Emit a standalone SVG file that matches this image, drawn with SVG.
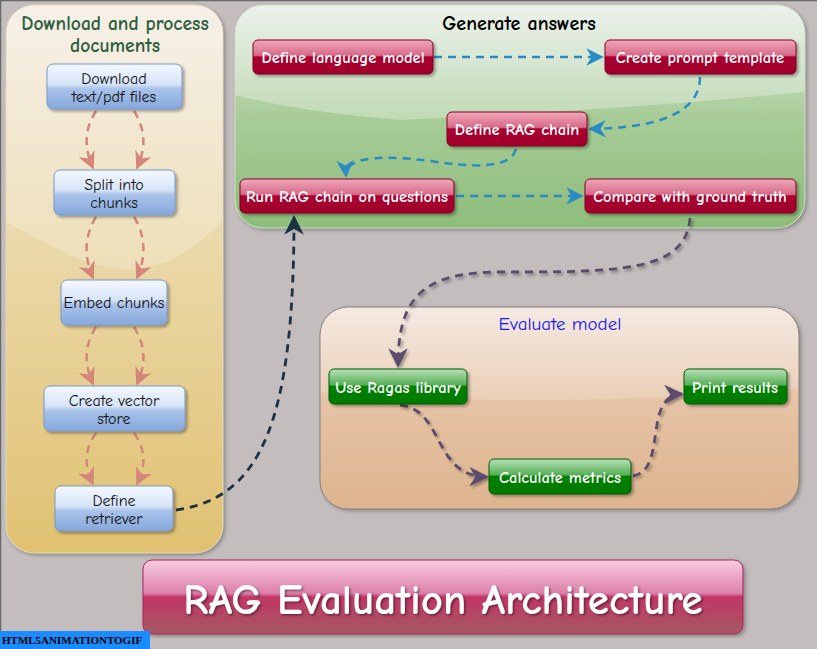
<svg xmlns="http://www.w3.org/2000/svg" width="817" height="649" viewBox="0 0 817 649">
<defs>
  <linearGradient id="gLeft" x1="0" y1="0" x2="0" y2="1">
    <stop offset="0" stop-color="#f4ece2"/>
    <stop offset="0.45" stop-color="#ead8a8"/>
    <stop offset="1" stop-color="#e0c170"/>
  </linearGradient>
  <linearGradient id="gGreen" x1="0" y1="0" x2="0" y2="1">
    <stop offset="0" stop-color="#e4ece4"/>
    <stop offset="0.5" stop-color="#a8cc98"/>
    <stop offset="1" stop-color="#8dbd7b"/>
  </linearGradient>
  <linearGradient id="gEval" x1="0" y1="0" x2="0" y2="1">
    <stop offset="0" stop-color="#f3e5dc"/>
    <stop offset="0.45" stop-color="#e6c4a6"/>
    <stop offset="1" stop-color="#ddb48e"/>
  </linearGradient>
  <linearGradient id="gBlue" x1="0" y1="0" x2="0" y2="1">
    <stop offset="0" stop-color="#f4f8ff"/>
    <stop offset="0.45" stop-color="#d6e4f8"/>
    <stop offset="0.55" stop-color="#a9c3ea"/>
    <stop offset="1" stop-color="#86a8dc"/>
  </linearGradient>
  <linearGradient id="gRed" x1="0" y1="0" x2="0" y2="1">
    <stop offset="0" stop-color="#f0a8bc"/>
    <stop offset="0.45" stop-color="#d86a88"/>
    <stop offset="0.5" stop-color="#a8002e"/>
    <stop offset="1" stop-color="#a0002c"/>
  </linearGradient>
  <linearGradient id="gGrn" x1="0" y1="0" x2="0" y2="1">
    <stop offset="0" stop-color="#b8e0b8"/>
    <stop offset="0.45" stop-color="#58b058"/>
    <stop offset="0.5" stop-color="#008000"/>
    <stop offset="1" stop-color="#007a00"/>
  </linearGradient>
  <linearGradient id="gTitle" x1="0" y1="0" x2="0" y2="1">
    <stop offset="0" stop-color="#f8cce0"/>
    <stop offset="0.45" stop-color="#dc80aa"/>
    <stop offset="0.5" stop-color="#c23566"/>
    <stop offset="1" stop-color="#a45a62"/>
  </linearGradient>
  <filter id="sh" x="-10%" y="-20%" width="125%" height="150%">
    <feDropShadow dx="2" dy="2" stdDeviation="1.5" flood-color="#000" flood-opacity="0.35"/>
  </filter>
  <filter id="psh" x="-5%" y="-5%" width="110%" height="110%">
    <feDropShadow dx="2" dy="2" stdDeviation="2" flood-color="#000" flood-opacity="0.3"/>
  </filter>
  <filter id="tsh" x="-5%" y="-20%" width="110%" height="140%">
    <feDropShadow dx="1.5" dy="1.5" stdDeviation="1" flood-color="#000" flood-opacity="0.45"/>
  </filter>
  <clipPath id="cLeft"><rect x="6" y="5" width="217" height="548" rx="28"/></clipPath>
  <clipPath id="cGreen"><rect x="235" y="5" width="570" height="223" rx="28"/></clipPath>
  <clipPath id="cEval"><rect x="320" y="307" width="479" height="202" rx="28"/></clipPath>
  <marker id="mPink" viewBox="0 0 10 10" refX="9" refY="5" markerWidth="7" markerHeight="7" orient="auto"><path d="M0,0 L10,5 L0,10 L3,5 Z" fill="#d4867a"/></marker>
  <marker id="mBlue" viewBox="0 0 10 10" refX="9" refY="5" markerWidth="7" markerHeight="7" orient="auto"><path d="M0,0 L10,5 L0,10 L3,5 Z" fill="#2b8cc4"/></marker>
  <marker id="mDark" viewBox="0 0 10 10" refX="9" refY="5" markerWidth="7" markerHeight="7" orient="auto"><path d="M0,0 L10,5 L0,10 L3,5 Z" fill="#1c3144"/></marker>
  <marker id="mPurp" viewBox="0 0 10 10" refX="9" refY="5" markerWidth="7" markerHeight="7" orient="auto"><path d="M0,0 L10,5 L0,10 L3,5 Z" fill="#5c4c6c"/></marker>
</defs>
<style>
  text { font-family: "Comic Sans MS", "Comic Neue", "DejaVu Sans", sans-serif; }
  .bn { fill: url(#gBlue); stroke: #7898cc; stroke-width: 1; filter: url(#sh); }
  .rn { fill: url(#gRed); stroke: #80001e; stroke-width: 1; filter: url(#sh); }
  .gn { fill: url(#gGrn); stroke: #005a00; stroke-width: 1; filter: url(#sh); }
  .bt { font-size: 16px; fill: #111; text-anchor: middle; }
  .wt { font-size: 16.5px; fill: #fff; font-weight: bold; text-anchor: middle; }
  .pk { fill: none; stroke: #d4867a; stroke-width: 2.5; stroke-dasharray: 8 6; marker-end: url(#mPink); }
  .bl { fill: none; stroke: #2b8cc4; stroke-width: 2.5; stroke-dasharray: 8 6; marker-end: url(#mBlue); }
  .dk { fill: none; stroke: #1c3144; stroke-width: 2.8; stroke-dasharray: 8 6; marker-end: url(#mDark); }
  .pu { fill: none; stroke: #5c4c6c; stroke-width: 2.8; stroke-dasharray: 8 6; marker-end: url(#mPurp); filter: url(#sh); }
</style>
<rect width="817" height="649" fill="#c3bdbd"/>
<path d="M0.5,649 V0.5 H817" fill="none" stroke="#6a6a6a" stroke-width="1.5"/>

<g id="panel-download">
  <rect x="6" y="5" width="217" height="548" rx="28" fill="url(#gLeft)" filter="url(#psh)"/>
  <g clip-path="url(#cLeft)">
    <path d="M6,5 H223 V220 Q150,300 60,250 Q30,235 6,222 Z" fill="#fff" opacity="0.22"/>
  </g>
  <rect x="6" y="5" width="217" height="548" rx="28" fill="none" stroke="#e8dcc0" stroke-width="1"/>
  <text x="115" y="30" text-anchor="middle" font-size="19.5" font-weight="bold" fill="#2e5e3e">Download and process</text>
  <text x="115" y="52" text-anchor="middle" font-size="19.5" font-weight="bold" fill="#2e5e3e">documents</text>
</g>

<g id="panel-generate">
  <rect x="235" y="5" width="570" height="223" rx="28" fill="url(#gGreen)" filter="url(#psh)"/>
  <g clip-path="url(#cGreen)">
    <path d="M235,5 H805 V92 Q620,110 400,120 Q300,112 235,95 Z" fill="#fff" opacity="0.3"/>
  </g>
  <rect x="235" y="5" width="570" height="223" rx="28" fill="none" stroke="#d0e0c8" stroke-width="1"/>
  <text x="519" y="30" text-anchor="middle" font-size="20" font-weight="bold" fill="#000">Generate answers</text>
</g>

<g id="panel-evaluate">
  <rect x="320" y="307" width="479" height="202" rx="28" fill="url(#gEval)" filter="url(#psh)"/>
  <g clip-path="url(#cEval)">
    <path d="M320,307 H799 V388 Q560,410 320,392 Z" fill="#fff" opacity="0.2"/>
  </g>
  <rect x="320" y="307" width="479" height="202" rx="28" fill="none" stroke="#8a8080" stroke-width="1"/>
  <text x="560" y="330" text-anchor="middle" font-size="19" fill="#1818ee">Evaluate model</text>
</g>

<g id="connectors">
  <path class="pk" d="M96,111 C84,130 84,148 93,168"/>
  <path class="pk" d="M134,111 C146,130 146,148 137,168"/>
  <path class="pk" d="M96,217 C84,236 84,258 93,278"/>
  <path class="pk" d="M134,217 C146,236 146,258 137,278"/>
  <path class="pk" d="M96,327 C84,346 84,364 93,384"/>
  <path class="pk" d="M134,327 C146,346 146,364 137,384"/>
  <path class="pk" d="M96,433 C84,450 84,466 93,484"/>
  <path class="pk" d="M134,433 C146,450 146,466 137,484"/>

  <path class="bl" d="M434,57 H602"/>
  <path class="bl" d="M700,77 C700,112 660,128 590,129"/>
  <path class="bl" d="M516,149 C510,170 470,167 430,161 C370,153 345,160 346,176"/>
  <path class="bl" d="M456,196 H582"/>

  <path class="dk" d="M176,510 C262,498 294,420 294,217"/>

  <path class="pu" d="M690,218 C686,272 620,272 500,272 C420,272 398,300 398,366"/>
  <path class="pu" d="M400,405 C445,410 432,476 487,477"/>
  <path class="pu" d="M633,476 C668,470 642,395 682,394"/>
</g>

<g id="node-download"><rect class="bn" x="47" y="64" width="135" height="45" rx="6"/><text class="bt" x="114" y="84">Download</text><text class="bt" x="114" y="102">text/pdf files</text></g>
<g id="node-split"><rect class="bn" x="54" y="170" width="121" height="45" rx="6"/><text class="bt" x="114" y="190">Split into</text><text class="bt" x="114" y="208">chunks</text></g>
<g id="node-embed"><rect class="bn" x="61" y="280" width="106" height="45" rx="6"/><text class="bt" x="114" y="308">Embed chunks</text></g>
<g id="node-vector"><rect class="bn" x="44" y="386" width="141" height="45" rx="6"/><text class="bt" x="114" y="406">Create vector</text><text class="bt" x="114" y="424">store</text></g>
<g id="node-retriever"><rect class="bn" x="55" y="486" width="118" height="45" rx="6"/><text class="bt" x="114" y="506">Define</text><text class="bt" x="114" y="524">retriever</text></g>

<g id="node-llm"><rect class="rn" x="253" y="40" width="180" height="34" rx="5"/><text class="wt" x="343" y="63">Define language model</text></g>
<g id="node-prompt"><rect class="rn" x="605" y="40" width="191" height="34" rx="5"/><text class="wt" x="700" y="63">Create prompt template</text></g>
<g id="node-ragchain"><rect class="rn" x="447" y="112" width="140" height="34" rx="5"/><text class="wt" x="517" y="135">Define RAG chain</text></g>
<g id="node-run"><rect class="rn" x="240" y="179" width="214" height="34" rx="5"/><text class="wt" x="347" y="202">Run RAG chain on questions</text></g>
<g id="node-compare"><rect class="rn" x="585" y="179" width="211" height="34" rx="5"/><text class="wt" x="690" y="202">Compare with ground truth</text></g>

<g id="node-ragas"><rect class="gn" x="329" y="369" width="138" height="35" rx="5"/><text class="wt" x="398" y="393">Use Ragas library</text></g>
<g id="node-print"><rect class="gn" x="684" y="369" width="103" height="35" rx="5"/><text class="wt" x="735" y="393">Print results</text></g>
<g id="node-metrics"><rect class="gn" x="489" y="459" width="142" height="35" rx="5"/><text class="wt" x="560" y="483">Calculate metrics</text></g>

<g id="title">
  <rect x="143" y="560" width="600" height="74" rx="9" fill="url(#gTitle)" stroke="#b0205a" stroke-width="1" filter="url(#psh)"/>
  <text x="443" y="614" text-anchor="middle" font-size="43" font-weight="bold" fill="#fff" filter="url(#tsh)">RAG Evaluation Architecture</text>
</g>

<g id="watermark">
  <rect x="0" y="631" width="150" height="18" fill="#1a8cff"/>
  <text x="2" y="644" font-size="11" font-weight="bold" fill="#000" style="font-family:'Liberation Serif',serif">HTML5ANIMATIONTOGIF</text>
</g>
</svg>
